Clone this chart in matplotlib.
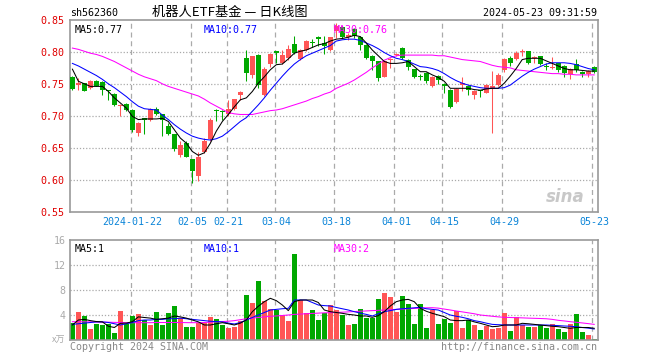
import numpy as np
import matplotlib
matplotlib.use('Agg')
import matplotlib.pyplot as plt

# daily K data, 2024-01-08 .. 2024-05-23 (88 trading days)
opens = [0.760, 0.748, 0.751, 0.743, 0.755, 0.753, 0.740, 0.734, 0.715, 0.719,
         0.709, 0.673, 0.696, 0.693, 0.710, 0.702, 0.684, 0.671, 0.639, 0.658,
         0.632, 0.606, 0.643, 0.663, 0.709, 0.708, 0.702, 0.710, 0.733, 0.791,
         0.764, 0.795, 0.733, 0.781, 0.801, 0.782, 0.790, 0.812, 0.789, 0.803,
         0.815, 0.823, 0.814, 0.803, 0.832, 0.839, 0.824, 0.836, 0.823, 0.811,
         0.794, 0.785, 0.761, 0.787, 0.795, 0.806, 0.788, 0.773, 0.762, 0.767,
         0.747, 0.762, 0.749, 0.741, 0.721, 0.748, 0.746, 0.733, 0.740, 0.736,
         0.743, 0.748, 0.771, 0.791, 0.789, 0.800, 0.802, 0.790, 0.793, 0.778,
         0.775, 0.782, 0.778, 0.765, 0.781, 0.769, 0.765, 0.777]
highs = [0.762, 0.759, 0.752, 0.756, 0.756, 0.754, 0.741, 0.736, 0.718, 0.720,
         0.710, 0.690, 0.697, 0.712, 0.713, 0.703, 0.688, 0.672, 0.660, 0.660,
         0.633, 0.643, 0.665, 0.697, 0.710, 0.709, 0.724, 0.727, 0.738, 0.803,
         0.794, 0.796, 0.776, 0.798, 0.801, 0.803, 0.811, 0.825, 0.804, 0.819,
         0.820, 0.825, 0.825, 0.824, 0.846, 0.841, 0.830, 0.838, 0.825, 0.812,
         0.795, 0.786, 0.787, 0.790, 0.799, 0.807, 0.789, 0.774, 0.765, 0.768,
         0.762, 0.764, 0.751, 0.742, 0.743, 0.761, 0.748, 0.741, 0.741, 0.749,
         0.770, 0.767, 0.790, 0.793, 0.801, 0.804, 0.802, 0.793, 0.793, 0.782,
         0.792, 0.783, 0.779, 0.775, 0.789, 0.770, 0.771, 0.778]
lows = [0.740, 0.740, 0.738, 0.742, 0.746, 0.733, 0.725, 0.716, 0.699, 0.708,
        0.674, 0.668, 0.672, 0.692, 0.701, 0.669, 0.670, 0.644, 0.636, 0.635,
        0.595, 0.597, 0.642, 0.661, 0.691, 0.694, 0.700, 0.709, 0.725, 0.754,
        0.759, 0.743, 0.731, 0.777, 0.783, 0.781, 0.788, 0.796, 0.788, 0.802,
        0.807, 0.809, 0.797, 0.802, 0.822, 0.822, 0.818, 0.822, 0.803, 0.789,
        0.771, 0.755, 0.760, 0.775, 0.793, 0.789, 0.771, 0.759, 0.756, 0.751,
        0.745, 0.750, 0.736, 0.712, 0.720, 0.738, 0.733, 0.726, 0.729, 0.735,
        0.673, 0.747, 0.769, 0.778, 0.788, 0.794, 0.781, 0.783, 0.779, 0.771,
        0.773, 0.769, 0.760, 0.757, 0.769, 0.761, 0.760, 0.767]
closes = [0.742, 0.752, 0.739, 0.755, 0.747, 0.740, 0.739, 0.717, 0.717, 0.709,
          0.678, 0.688, 0.694, 0.711, 0.703, 0.694, 0.672, 0.648, 0.654, 0.636,
          0.613, 0.636, 0.661, 0.694, 0.708, 0.706, 0.710, 0.726, 0.737, 0.767,
          0.793, 0.748, 0.774, 0.797, 0.799, 0.795, 0.804, 0.798, 0.803, 0.817,
          0.814, 0.820, 0.809, 0.823, 0.840, 0.824, 0.826, 0.825, 0.811, 0.791,
          0.785, 0.759, 0.785, 0.788, 0.797, 0.791, 0.776, 0.761, 0.761, 0.755,
          0.760, 0.756, 0.746, 0.714, 0.742, 0.752, 0.740, 0.738, 0.738, 0.748,
          0.747, 0.764, 0.789, 0.782, 0.799, 0.801, 0.783, 0.791, 0.781, 0.777,
          0.777, 0.771, 0.767, 0.773, 0.772, 0.765, 0.770, 0.768]

ma5 = [0.773, 0.754, 0.750, 0.746, 0.746, 0.746, 0.738, 0.728, 0.720, 0.712,
       0.699, 0.694, 0.695, 0.695, 0.695, 0.696, 0.691, 0.678, 0.665, 0.657,
       0.644, 0.638, 0.642, 0.657, 0.676, 0.691, 0.702, 0.714, 0.725, 0.728,
       0.738, 0.751, 0.761, 0.772, 0.780, 0.781, 0.789, 0.798, 0.801, 0.803,
       0.807, 0.811, 0.813, 0.817, 0.820, 0.821, 0.823, 0.826, 0.824, 0.814,
       0.803, 0.794, 0.785, 0.782, 0.782, 0.783, 0.785, 0.777, 0.769, 0.769,
       0.764, 0.760, 0.754, 0.743, 0.743, 0.743, 0.743, 0.741, 0.740, 0.742,
       0.743, 0.743, 0.751, 0.762, 0.774, 0.788, 0.790, 0.790, 0.790, 0.786,
       0.782, 0.778, 0.774, 0.772, 0.772, 0.771, 0.770, 0.770]
ma10 = [0.782, 0.778, 0.773, 0.768, 0.763, 0.757, 0.750, 0.744, 0.737, 0.730,
        0.722, 0.715, 0.711, 0.710, 0.709, 0.701, 0.694, 0.686, 0.679, 0.673,
        0.668, 0.665, 0.663, 0.662, 0.664, 0.668, 0.675, 0.683, 0.691, 0.697,
        0.707, 0.717, 0.728, 0.740, 0.751, 0.762, 0.772, 0.781, 0.788, 0.794,
        0.798, 0.802, 0.806, 0.810, 0.817, 0.819, 0.820, 0.820, 0.818, 0.814,
        0.810, 0.805, 0.799, 0.794, 0.790, 0.788, 0.785, 0.781, 0.777, 0.776,
        0.774, 0.771, 0.766, 0.760, 0.755, 0.751, 0.748, 0.746, 0.744, 0.743,
        0.743, 0.743, 0.744, 0.748, 0.755, 0.762, 0.768, 0.773, 0.777, 0.781,
        0.783, 0.783, 0.783, 0.782, 0.780, 0.777, 0.774, 0.772]
ma30 = [0.806, 0.804, 0.801, 0.798, 0.796, 0.793, 0.789, 0.785, 0.780, 0.775,
        0.770, 0.765, 0.761, 0.758, 0.755, 0.750, 0.746, 0.743, 0.740, 0.737,
        0.734, 0.731, 0.726, 0.720, 0.715, 0.710, 0.705, 0.703, 0.702, 0.702,
        0.702, 0.704, 0.706, 0.708, 0.709, 0.711, 0.714, 0.717, 0.720, 0.723,
        0.727, 0.730, 0.734, 0.737, 0.743, 0.747, 0.751, 0.756, 0.762, 0.768,
        0.775, 0.781, 0.787, 0.791, 0.794, 0.795, 0.795, 0.795, 0.795, 0.795,
        0.795, 0.794, 0.794, 0.792, 0.790, 0.788, 0.787, 0.786, 0.785, 0.782,
        0.779, 0.777, 0.776, 0.775, 0.772, 0.771, 0.770, 0.769, 0.768, 0.767,
        0.766, 0.766, 0.765, 0.765, 0.764, 0.764, 0.764, 0.764]

# volume (万)
volumes = [2.67, 4.53, 3.84, 1.76, 2.56, 2.40, 2.56, 1.20, 4.64, 2.56,
           3.84, 4.16, 3.20, 2.40, 4.53, 2.40, 4.37, 5.44, 3.47, 2.13,
           2.13, 2.67, 2.77, 3.63, 3.31, 2.40, 1.97, 2.13, 3.09, 7.20,
           5.97, 9.44, 6.24, 4.91, 4.80, 4.00, 3.09, 13.76, 6.40, 4.27,
           4.80, 3.20, 4.27, 5.60, 4.80, 4.00, 2.40, 2.56, 4.96, 3.47,
           3.47, 6.56, 7.57, 6.93, 4.53, 7.04, 5.76, 2.56, 5.76, 1.97,
           4.80, 2.56, 3.31, 2.77, 4.64, 1.97, 3.20, 2.40, 1.60, 2.24,
           1.71, 1.97, 4.37, 1.49, 3.63, 2.40, 2.13, 2.13, 2.40, 1.97,
           2.51, 1.81, 1.33, 2.56, 4.16, 1.33, 0.80, 0.21]
vol_ma5 = [2.40, 3.20, 3.30, 3.10, 2.95, 2.90, 2.20, 2.00, 2.67, 2.70,
           2.93, 3.70, 3.60, 3.50, 3.30, 3.40, 3.50, 3.84, 3.70, 3.50,
           3.20, 2.90, 2.40, 2.40, 2.60, 2.77, 2.60, 2.40, 2.70, 3.20,
           4.53, 5.40, 6.13, 6.67, 6.30, 5.60, 4.70, 6.13, 6.40, 6.40,
           6.40, 6.00, 4.80, 4.53, 4.40, 4.27, 4.10, 4.00, 3.84, 3.84,
           3.63, 3.90, 4.53, 5.44, 6.13, 6.40, 6.50, 6.13, 5.07, 4.60,
           4.27, 4.00, 3.73, 3.20, 3.10, 3.10, 3.20, 2.90, 2.67, 2.40,
           2.13, 2.20, 2.40, 2.40, 2.40, 2.67, 2.60, 2.50, 2.40, 2.30,
           2.20, 2.13, 2.00, 1.87, 2.00, 2.00, 2.00, 1.87]
vol_ma10 = [2.50, 2.60, 2.70, 2.80, 2.90, 2.90, 2.80, 2.60, 2.40, 2.60,
            2.80, 3.10, 3.20, 3.20, 3.30, 3.30, 3.40, 3.40, 3.50, 3.40,
            3.30, 3.20, 3.10, 3.00, 2.95, 2.90, 2.70, 2.56, 2.80, 3.20,
            3.60, 4.00, 4.40, 4.80, 4.90, 5.00, 5.07, 6.40, 6.40, 6.40,
            6.00, 5.60, 5.50, 5.44, 5.20, 5.00, 4.80, 4.53, 4.30, 4.10,
            3.84, 4.20, 4.53, 4.70, 4.90, 5.00, 5.07, 5.15, 5.23, 5.00,
            4.90, 4.80, 4.40, 4.00, 3.80, 3.63, 3.40, 3.10, 2.93, 2.70,
            2.50, 2.45, 2.40, 2.40, 2.40, 2.40, 2.40, 2.40, 2.40, 2.40,
            2.35, 2.30, 2.24, 2.20, 2.13, 2.00, 1.90, 1.76]
vol_ma30 = [2.93, 2.93, 2.90, 2.90, 2.88, 2.85, 2.85, 2.82, 2.80, 2.78,
            2.77, 2.77, 2.77, 2.77, 2.80, 2.80, 2.80, 2.80, 2.80, 2.78,
            2.77, 2.77, 2.80, 2.85, 2.90, 2.95, 3.00, 3.10, 3.25, 3.40,
            3.50, 3.60, 3.70, 3.78, 3.85, 3.92, 4.00, 4.10, 4.15, 4.20,
            4.25, 4.30, 4.35, 4.37, 4.40, 4.45, 4.50, 4.55, 4.60, 4.65,
            4.70, 4.75, 4.80, 4.85, 4.90, 4.95, 5.00, 5.05, 5.10, 5.15,
            5.17, 5.10, 4.95, 4.80, 4.64, 4.50, 4.35, 4.20, 4.00, 3.90,
            3.80, 3.70, 3.63, 3.60, 3.57, 3.54, 3.50, 3.47, 3.44, 3.40,
            3.30, 3.15, 3.05, 2.93, 2.83, 2.73, 2.62, 2.50]

tick_idx = [10, 20, 26, 34, 44, 54, 62, 72, 87]
tick_labels = ['2024-01-22', '02-05', '02-21', '03-04', '03-18',
               '04-01', '04-15', '04-29', '05-23']
price_ticks = [0.55, 0.60, 0.65, 0.70, 0.75, 0.80, 0.85]
vol_ticks = [4, 8, 12, 16]

RED = '#ff5555'
GREEN = '#00a800'
GRID = '#aaaaaa'
FRAME = '#999999'
BLUE = '#0000ff'
MAG = '#ff00ff'
DATE = '#0a84d8'
MONO = 'DejaVu Sans Mono'
CJK = ['Noto Sans CJK SC', 'DejaVu Sans']
FS = 7.2
LW = 0.75

x = np.arange(len(closes))
o = np.array(opens)
c = np.array(closes)
colors = np.where(c >= o, RED, GREEN)

fig = plt.figure(figsize=(6.6, 3.6), dpi=100)
ax = fig.add_axes([70 / 660, 148.5 / 360, 527.5 / 660, 191.5 / 360])
axv = fig.add_axes([70 / 660, 20 / 360, 527.5 / 660, 100 / 360])

for a in (ax, axv):
    a.set_xlim(-0.4, 87.55)
    for s in a.spines.values():
        s.set_color(FRAME)
        s.set_linewidth(1.2)
    for i in tick_idx:
        a.axvline(i - 0.3, color=GRID, lw=0.9, ls=(0, (4, 3)), zorder=0)

# price panel
ax.set_ylim(0.55, 0.85)
for v in price_ticks[1:-1]:
    ax.axhline(v, color=GRID, lw=0.9, ls=(0, (1, 1.5)), zorder=0)
ax.vlines(x, lows, highs, colors=colors, lw=LW, zorder=2)
ax.bar(x, np.maximum(np.abs(c - o), 0.0015), bottom=np.minimum(o, c),
       width=0.8, color=colors, lw=0, zorder=3)
ax.plot(x, ma30, color=MAG, lw=LW, zorder=4)
ax.plot(x, ma10, color=BLUE, lw=LW, zorder=4)
ax.plot(x, ma5, color='black', lw=LW, zorder=4)

ax.set_yticks(price_ticks)
ax.set_yticklabels(['%.2f' % v for v in price_ticks], color='#e00000',
                   family=MONO, fontsize=FS)
ax.set_xticks(tick_idx)
ax.set_xticklabels(tick_labels, color=DATE, family=MONO, fontsize=FS)
ax.tick_params(length=0, pad=4)

ax.text(0.008, 0.975, 'MA5:0.77', transform=ax.transAxes, va='top',
        family=MONO, fontsize=FS, color='black')
ax.text(0.254, 0.975, 'MA10:0.77', transform=ax.transAxes, va='top',
        family=MONO, fontsize=FS, color=BLUE)
ax.text(0.5, 0.975, 'MA30:0.76', transform=ax.transAxes, va='top',
        family=MONO, fontsize=FS, color=MAG)
ax.text(0.975, 0.03, 'sina', transform=ax.transAxes, ha='right', va='bottom',
        fontsize=12, fontweight='bold', style='italic', color='#bbbbbb',
        alpha=0.8)

# volume panel
axv.set_ylim(0, 16)
for v in vol_ticks[:-1]:
    axv.axhline(v, color=GRID, lw=0.9, ls=(0, (1, 1.5)), zorder=0)
axv.bar(x, volumes, width=0.85, color=colors, lw=0, zorder=2)
axv.plot(x, vol_ma30, color=MAG, lw=LW, zorder=3)
axv.plot(x, vol_ma10, color=BLUE, lw=LW, zorder=3)
axv.plot(x, vol_ma5, color='black', lw=LW, zorder=3)
axv.set_yticks(vol_ticks)
axv.set_yticklabels([str(v) for v in vol_ticks], color='#aaaaaa',
                    family=MONO, fontsize=FS)
axv.set_xticks([])
axv.tick_params(length=0, pad=3)

axv.text(0.008, 0.96, 'MA5:1', transform=axv.transAxes, va='top',
         family=MONO, fontsize=FS, color='black')
axv.text(0.254, 0.96, 'MA10:1', transform=axv.transAxes, va='top',
         family=MONO, fontsize=FS, color=BLUE)
axv.text(0.5, 0.96, 'MA30:2', transform=axv.transAxes, va='top',
         family=MONO, fontsize=FS, color=MAG)

# header / footer texts
fig.text(70 / 660, 1 - 13.5 / 360, 'sh562360', va='center',
         family=MONO, fontsize=FS)
fig.text(230 / 660, 1 - 12.5 / 360, '机器人ETF基金 — 日K线图', ha='center',
         va='center', family=CJK, fontsize=9.5)
fig.text(597 / 660, 1 - 12.5 / 360, '2024-05-23 09:31:59', ha='right',
         va='center', family=MONO, fontsize=FS)
fig.text(65 / 660, 1 - 340 / 360, 'x万', ha='right', va='center',
         family=CJK, fontsize=6.5, color='#aaaaaa')
fig.text(70 / 660, 1 - 346.5 / 360, 'Copyright 2024 SINA.COM', va='center',
         family=MONO, fontsize=FS, color='#888888')
fig.text(597 / 660, 1 - 346.5 / 360, 'http://finance.sina.com.cn', ha='right',
         va='center', family=MONO, fontsize=FS, color='#888888')

fig.savefig('out.png', dpi=100)
